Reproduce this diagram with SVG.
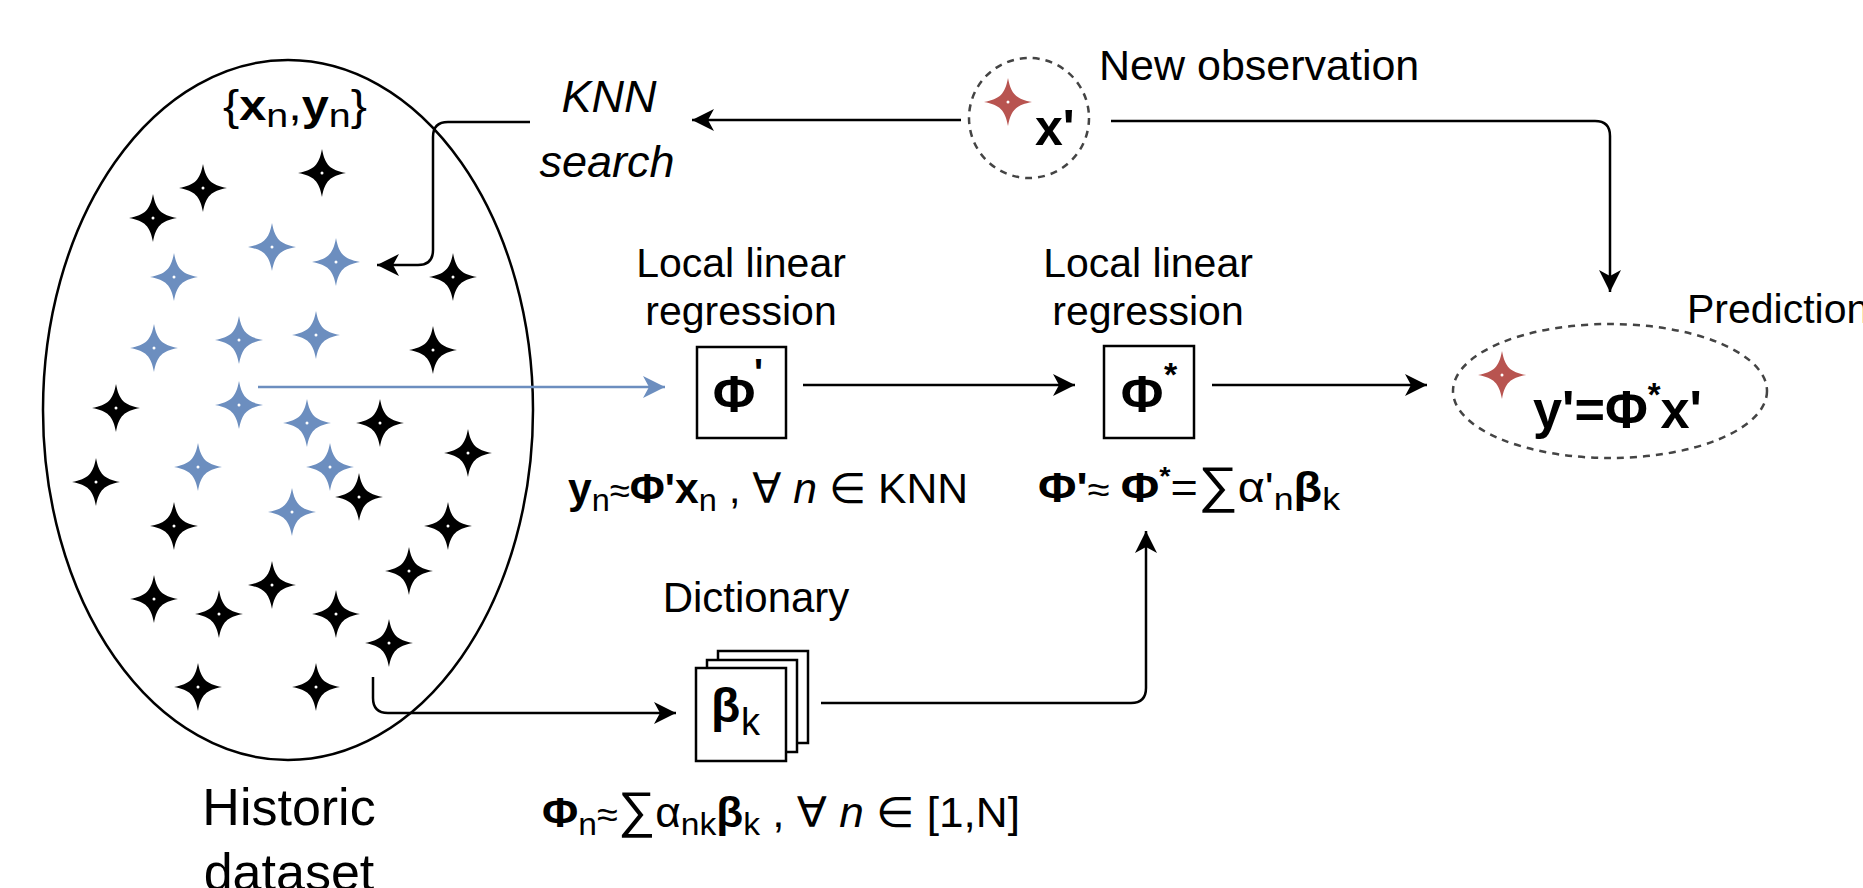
<svg xmlns="http://www.w3.org/2000/svg" xmlns:xlink="http://www.w3.org/1999/xlink" width="1863" height="888" viewBox="0 0 1863 888">
<style>
.t{font-family:"Liberation Sans",Arial,"DejaVu Sans",sans-serif;fill:#000}
.b{font-weight:bold}
.i{font-style:italic}
.ln{fill:none;stroke:#000;stroke-width:2.5}
.bl{fill:none;stroke:#6c8ebf;stroke-width:2.5}
.dash{fill:none;stroke:#444;stroke-width:2.5;stroke-dasharray:7 6}
.box{fill:#fff;stroke:#000;stroke-width:2.5}
.blk{fill:#000}
.blu{fill:#6c8ebf}
.red{fill:#b85450}
</style>
<defs>
<marker id="ah" markerUnits="userSpaceOnUse" markerWidth="24" markerHeight="24" refX="22" refY="11" orient="auto">
<path d="M0,0 L22,11 L0,22 L6,11 Z" fill="#000"/>
</marker>
<marker id="ahb" markerUnits="userSpaceOnUse" markerWidth="24" markerHeight="24" refX="22" refY="11" orient="auto">
<path d="M0,0 L22,11 L0,22 L6,11 Z" fill="#6c8ebf"/>
</marker>
<g id="star">
<path d="M0,-24 C3,-8 8,-3 24,0 C8,3 3,8 0,24 C-3,8 -8,3 -24,0 C-8,-3 -3,-8 0,-24 Z"/>
<circle r="1.5" fill="#fff"/>
</g>
</defs>
<rect width="1863" height="888" fill="#fff"/>

<g id="historic-dataset">
<ellipse cx="288" cy="410" rx="245" ry="350" fill="none" stroke="#000" stroke-width="2.5"/>
<text class="t" x="223" y="120" font-size="42" textLength="144" lengthAdjust="spacingAndGlyphs">{<tspan class="b">x</tspan><tspan dy="7" font-size="34">n</tspan><tspan dy="-7">,</tspan><tspan class="b">y</tspan><tspan dy="7" font-size="34">n</tspan><tspan dy="-7">}</tspan></text>
<g class="blk">
<use xlink:href="#star" x="153" y="218"/><use xlink:href="#star" x="203" y="188"/><use xlink:href="#star" x="322" y="173"/>
<use xlink:href="#star" x="453" y="277"/><use xlink:href="#star" x="433" y="350"/><use xlink:href="#star" x="116" y="408"/>
<use xlink:href="#star" x="380" y="423"/><use xlink:href="#star" x="468" y="453"/><use xlink:href="#star" x="96" y="482"/>
<use xlink:href="#star" x="359" y="497"/><use xlink:href="#star" x="174" y="526"/><use xlink:href="#star" x="448" y="526"/>
<use xlink:href="#star" x="409" y="571"/><use xlink:href="#star" x="272" y="585"/><use xlink:href="#star" x="154" y="599"/>
<use xlink:href="#star" x="219" y="614"/><use xlink:href="#star" x="336" y="614"/><use xlink:href="#star" x="389" y="643"/>
<use xlink:href="#star" x="198" y="687"/><use xlink:href="#star" x="316" y="687"/>
</g>
<g class="blu">
<use xlink:href="#star" x="272" y="247"/><use xlink:href="#star" x="336" y="262"/><use xlink:href="#star" x="174" y="277"/>
<use xlink:href="#star" x="154" y="348"/><use xlink:href="#star" x="239" y="340"/><use xlink:href="#star" x="316" y="335"/>
<use xlink:href="#star" x="239" y="405"/><use xlink:href="#star" x="307" y="423"/><use xlink:href="#star" x="198" y="467"/>
<use xlink:href="#star" x="330" y="467"/><use xlink:href="#star" x="292" y="512"/>
</g>
<text class="t" font-size="52" text-anchor="middle"><tspan x="289" y="825">Historic</tspan><tspan x="289" y="890">dataset</tspan></text>
</g>

<g id="knn-search">
<text class="t i" font-size="45" text-anchor="middle"><tspan x="609" y="112">KNN</tspan><tspan x="607" y="177">search</tspan></text>
</g>

<g id="new-observation">
<circle cx="1029" cy="118" r="60" class="dash"/>
<use xlink:href="#star" x="1008" y="102" class="red"/>
<text class="t b" x="1035" y="145" font-size="50">x'</text>
<text class="t" x="1099" y="80" font-size="43">New observation</text>
</g>

<g id="local-regression-1">
<text class="t" font-size="41" text-anchor="middle"><tspan x="741" y="277">Local linear</tspan><tspan x="741" y="325">regression</tspan></text>
<rect x="697" y="347" width="89" height="91" class="box"/>
<text class="t b" x="734" y="412" font-size="52" text-anchor="middle">Φ</text>
<text class="t b" x="754" y="386" font-size="38">'</text>
<text class="t" x="568" y="503" font-size="42" textLength="400" lengthAdjust="spacingAndGlyphs"><tspan class="b">y</tspan><tspan dy="8" font-size="32">n</tspan><tspan dy="-8" font-size="36">≈</tspan><tspan class="b">Φ'x</tspan><tspan dy="8" font-size="32">n</tspan><tspan dy="-8"> , ∀ </tspan><tspan class="i">n</tspan><tspan> ∈ KNN</tspan></text>
</g>

<g id="local-regression-2">
<text class="t" font-size="41" text-anchor="middle"><tspan x="1148" y="277">Local linear</tspan><tspan x="1148" y="325">regression</tspan></text>
<rect x="1104" y="346" width="90" height="92" class="box"/>
<text class="t b" x="1142" y="412" font-size="52" text-anchor="middle">Φ</text>
<text class="t b" x="1164" y="386" font-size="34">*</text>
<text class="t" x="1038" y="502" font-size="42" textLength="302" lengthAdjust="spacingAndGlyphs"><tspan class="b">Φ'</tspan><tspan font-size="36">≈ </tspan><tspan class="b">Φ</tspan><tspan dy="-17" font-size="26" class="b">*</tspan><tspan dy="17">=</tspan><tspan font-size="50">∑</tspan><tspan>α'</tspan><tspan dy="8" font-size="32">n</tspan><tspan dy="-8" class="b">β</tspan><tspan dy="8" font-size="32">k</tspan></text>
</g>

<g id="dictionary">
<text class="t" x="756" y="612" font-size="42" text-anchor="middle">Dictionary</text>
<rect x="718" y="651" width="90" height="92" class="box"/>
<rect x="707" y="660" width="90" height="92" class="box"/>
<rect x="696" y="668" width="90" height="93" class="box"/>
<text class="t b" x="711" y="722" font-size="48">β</text>
<text class="t" x="741" y="735" font-size="38">k</text>
<text class="t" x="542" y="827" font-size="42" textLength="478" lengthAdjust="spacingAndGlyphs"><tspan class="b">Φ</tspan><tspan dy="8" font-size="32">n</tspan><tspan dy="-8" font-size="36">≈</tspan><tspan font-size="50">∑</tspan><tspan>α</tspan><tspan dy="8" font-size="32">nk</tspan><tspan dy="-8" class="b">β</tspan><tspan dy="8" font-size="32">k</tspan><tspan dy="-8"> , ∀ </tspan><tspan class="i">n</tspan><tspan> ∈ [1,N]</tspan></text>
</g>

<g id="prediction">
<ellipse cx="1610" cy="391" rx="157" ry="67" class="dash"/>
<use xlink:href="#star" x="1502" y="375" class="red"/>
<text class="t b" x="1533" y="428" font-size="54" textLength="169" lengthAdjust="spacingAndGlyphs">y'=Φ<tspan dy="-22" font-size="34">*</tspan><tspan dy="22">x'</tspan></text>
<text class="t" x="1687" y="323" font-size="41">Prediction</text>
</g>

<g id="connectors">
<path class="ln" d="M961,120 H692" marker-end="url(#ah)"/>
<path class="ln" d="M530,122 H448 Q433,122 433,137 V250 Q433,265 418,265 H377" marker-end="url(#ah)"/>
<path class="ln" d="M1111,121 H1595 Q1610,121 1610,136 V292" marker-end="url(#ah)"/>
<path class="bl" d="M258,387 H665" marker-end="url(#ahb)"/>
<path class="ln" d="M803,385 H1075" marker-end="url(#ah)"/>
<path class="ln" d="M1212,385 H1427" marker-end="url(#ah)"/>
<path class="ln" d="M373,677 V698 Q373,713 388,713 H676" marker-end="url(#ah)"/>
<path class="ln" d="M821,703 H1131 Q1146,703 1146,688 V531" marker-end="url(#ah)"/>
</g>
</svg>
